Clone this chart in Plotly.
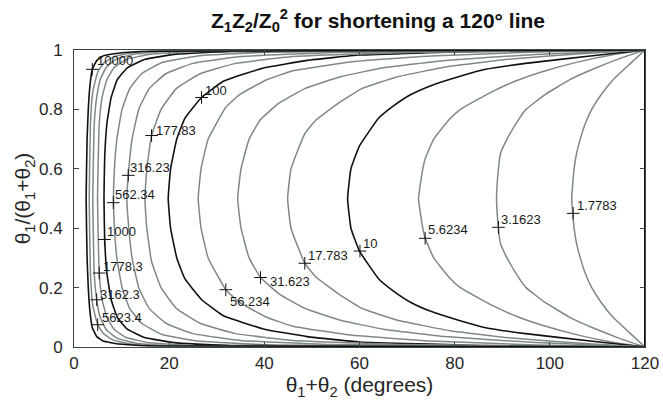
import plotly.graph_objects as go

# ---- data ----
levels = [1.7783, 3.1623, 5.6234, 10, 17.783, 31.623, 56.234, 100,
          177.83, 316.23, 562.34, 1000, 1778.3, 3162.3, 5623.4, 10000]
label_text = ["1.7783", "3.1623", "5.6234", "10", "17.783", "31.623", "56.234", "100",
              "177.83", "316.23", "562.34", "1000", "1778.3", "3162.3", "5623.4", "10000"]
# position of each contour label ("+") in data units
label_x = [104.9, 89.2, 73.8, 60.1, 48.5, 39.2, 31.9, 26.8,
           16.3, 11.4, 8.27, 6.4, 5.3, 4.77, 4.98, 3.85]
label_y = [0.45, 0.403, 0.366, 0.323, 0.282, 0.234, 0.193, 0.84,
           0.712, 0.578, 0.486, 0.362, 0.249, 0.159, 0.075, 0.935]

# contour paths (theta1+theta2 in degrees, theta1/(theta1+theta2))
c1_x = [120, 116.6, 113.3, 110.8, 108.8, 107.4, 106.4, 105.6, 105.1, 104.6, 105.1, 105.6, 106.4, 107.4, 108.8, 110.8, 113.3, 116.6, 120]
c1_y = [0, 0.05, 0.1, 0.15, 0.2, 0.25, 0.3, 0.35, 0.4, 0.5, 0.6, 0.65, 0.7, 0.75, 0.8, 0.85, 0.9, 0.95, 1]
c2_x = [120, 114.5, 109, 104.2, 99.0, 95.0, 93.6, 91.0, 89.6, 89.2, 88.8, 89.2, 89.6, 91.0, 93.6, 95.0, 99.0, 104.2, 109, 114.5, 120]
c2_y = [0, 0.03, 0.065, 0.1, 0.15, 0.2, 0.23, 0.3, 0.35, 0.4, 0.5, 0.6, 0.65, 0.7, 0.77, 0.8, 0.85, 0.9, 0.935, 0.97, 1]
c3_x = [120, 113.5, 106, 98.4, 93.5, 87.9, 81.2, 78.8, 75.6, 73.8, 73.3, 72.4, 73.3, 73.8, 75.6, 78.8, 81.2, 87.9, 93.5, 98.4, 106, 113.5, 120]
c3_y = [0, 0.015, 0.04, 0.073, 0.1, 0.14, 0.2, 0.235, 0.3, 0.366, 0.4, 0.5, 0.6, 0.634, 0.7, 0.765, 0.8, 0.86, 0.9, 0.927, 0.96, 0.985, 1]
c4_x = [120, 108.5, 94.9, 86.5, 80.8, 75.0, 70.8, 67.0, 64.0, 60.0, 58.2, 57.5, 58.2, 60.0, 64.0, 67.0, 70.8, 75.0, 80.8, 86.5, 94.9, 108.5, 120]
c4_y = [0, 0.02, 0.045, 0.065, 0.09, 0.12, 0.15, 0.19, 0.23, 0.323, 0.4, 0.5, 0.6, 0.677, 0.77, 0.81, 0.85, 0.88, 0.91, 0.935, 0.955, 0.98, 1]
c5_x = [120, 109, 92, 79, 68, 60.5, 55.5, 50.9, 48.5, 45.6, 44.9, 45.6, 48.5, 50.9, 55.5, 60.5, 68, 79, 92, 109, 120]
c5_y = [0, 0.01, 0.03, 0.055, 0.09, 0.13, 0.18, 0.235, 0.282, 0.4, 0.5, 0.6, 0.718, 0.765, 0.82, 0.87, 0.91, 0.945, 0.97, 0.99, 1]
c6_x = [120, 97, 78, 65, 56, 48.5, 43, 39.2, 36.8, 35.1, 34.4, 35.1, 36.8, 39.2, 43, 48.5, 56, 65, 78, 97, 120]
c6_y = [0, 0.015, 0.035, 0.06, 0.09, 0.13, 0.18, 0.234, 0.3, 0.4, 0.5, 0.6, 0.7, 0.766, 0.82, 0.87, 0.91, 0.94, 0.965, 0.985, 1]
c7_x = [120, 97, 75, 58, 46, 40.5, 34.8, 31.9, 28.2, 26.7, 26.1, 26.7, 28.2, 31.9, 34.8, 40.5, 46, 58, 75, 97, 120]
c7_y = [0, 0.007, 0.02, 0.04, 0.07, 0.1, 0.15, 0.193, 0.3, 0.4, 0.5, 0.6, 0.7, 0.807, 0.85, 0.9, 0.93, 0.96, 0.98, 0.993, 1]
c8_x = [120, 85, 60, 49, 40, 31.3, 26.8, 23.3, 21.6, 20.3, 19.8, 20.3, 21.6, 23.3, 26.8, 31.3, 40, 49, 60, 85, 120]
c8_y = [0, 0.005, 0.017, 0.035, 0.06, 0.106, 0.16, 0.23, 0.3, 0.4, 0.5, 0.6, 0.7, 0.77, 0.84, 0.894, 0.94, 0.965, 0.983, 0.995, 1]
c9_x = [120, 70, 46, 34, 26.5, 21.5, 18.3, 16.3, 15.3, 14.9, 15.3, 16.3, 18.3, 21.5, 26.5, 34, 46, 70, 120]
c9_y = [0, 0.008, 0.022, 0.045, 0.08, 0.13, 0.2, 0.288, 0.4, 0.5, 0.6, 0.712, 0.8, 0.87, 0.92, 0.955, 0.978, 0.992, 1]
c10_x = [120, 55, 35, 25, 19.3, 15.8, 13.6, 12.2, 11.4, 11.1, 11.4, 12.2, 13.6, 15.8, 19.3, 25, 35, 55, 120]
c10_y = [0, 0.008, 0.022, 0.045, 0.08, 0.13, 0.2, 0.3, 0.422, 0.5, 0.578, 0.7, 0.8, 0.87, 0.92, 0.955, 0.978, 0.992, 1]
c11_x = [120, 42, 26, 18.5, 14.2, 11.7, 10.1, 9.0, 8.5, 8.3, 8.5, 9.0, 10.1, 11.7, 14.2, 18.5, 26, 42, 120]
c11_y = [0, 0.007, 0.02, 0.042, 0.08, 0.13, 0.2, 0.3, 0.4, 0.5, 0.6, 0.7, 0.8, 0.87, 0.92, 0.958, 0.98, 0.993, 1]
c12_x = [120, 33, 21.5, 14.8, 11.2, 9.1, 7.8, 6.9, 6.45, 6.3, 6.45, 6.9, 7.8, 9.1, 11.2, 14.8, 21.5, 33, 120]
c12_y = [0, 0.005, 0.014, 0.032, 0.06, 0.1, 0.16, 0.25, 0.362, 0.5, 0.638, 0.75, 0.84, 0.9, 0.94, 0.968, 0.986, 0.995, 1]
c13_x = [120, 25, 16, 11, 8.4, 6.9, 5.9, 5.3, 4.95, 5.3, 5.9, 6.9, 8.4, 11, 16, 25, 120]
c13_y = [0, 0.005, 0.014, 0.032, 0.06, 0.1, 0.16, 0.249, 0.5, 0.751, 0.84, 0.9, 0.94, 0.968, 0.986, 0.995, 1]
c14_x = [120, 20, 13, 9, 6.8, 5.5, 4.77, 4.25, 3.95, 4.25, 4.77, 5.5, 6.8, 9, 13, 20, 120]
c14_y = [0, 0.004, 0.013, 0.03, 0.058, 0.1, 0.159, 0.25, 0.5, 0.75, 0.841, 0.9, 0.942, 0.97, 0.987, 0.996, 1]
c15_x = [120, 18, 12, 8.3, 6.2, 4.98, 3.95, 3.45, 3.2, 3.45, 3.95, 4.98, 6.2, 8.3, 12, 18, 120]
c15_y = [0, 0.003, 0.01, 0.023, 0.045, 0.075, 0.14, 0.25, 0.5, 0.75, 0.86, 0.925, 0.955, 0.977, 0.99, 0.997, 1]
c16_x = [120, 16, 9.6, 6.1, 4.8, 3.85, 3.35, 3.0, 2.75, 2.55, 2.75, 3.0, 3.35, 3.85, 4.8, 6.1, 9.6, 16, 120]
c16_y = [0, 0.004, 0.01, 0.02, 0.035, 0.065, 0.12, 0.2, 0.3, 0.5, 0.7, 0.8, 0.88, 0.935, 0.965, 0.98, 0.99, 0.996, 1]
# level-1 contour lies on the right edge
c0_x = [120, 120]
c0_y = [0, 1]

x_ticks = [0, 20, 40, 60, 80, 100, 120]
y_ticks = [0, 0.2, 0.4, 0.6, 0.8, 1]
y_tick_text = ["0", "0.2", "0.4", "0.6", "0.8", "1"]

# ---- styles ----
paths = [(c1_x, c1_y), (c2_x, c2_y), (c3_x, c3_y), (c4_x, c4_y), (c5_x, c5_y),
         (c6_x, c6_y), (c7_x, c7_y), (c8_x, c8_y), (c9_x, c9_y), (c10_x, c10_y),
         (c11_x, c11_y), (c12_x, c12_y), (c13_x, c13_y), (c14_x, c14_y),
         (c15_x, c15_y), (c16_x, c16_y)]
decade = {10, 100, 1000, 10000}
GRAY = "#7f8888"
BLACK = "#111111"
AX = "#3a4646"
FONT = "Liberation Sans, Arial, Helvetica, sans-serif"
TXT = "#262626"

fig = go.Figure()
for lev, (px, py) in zip(levels, paths):
    is_dec = lev in decade
    fig.add_trace(go.Scatter(
        x=px, y=py, mode="lines",
        line=dict(color=BLACK if is_dec else GRAY, width=1.6 if is_dec else 1.5,
                  shape="spline", smoothing=0.35),
        hoverinfo="skip", showlegend=False))
fig.add_trace(go.Scatter(x=c0_x, y=c0_y, mode="lines",
                         line=dict(color=BLACK, width=2), hoverinfo="skip",
                         showlegend=False))

fig.add_trace(go.Scatter(
    x=label_x, y=label_y, mode="markers",
    marker=dict(symbol="cross-thin", size=9, line=dict(color=BLACK, width=1)),
    hoverinfo="skip", showlegend=False))

# label offsets in pixels (dx, dy), dy up
offs = [(2, 8), (1, 8), (1, 9), (1, 8), (1, 8), (7, -4), (2, -12), (1, 7),
        (2, 5), (0, 8), (0, 8), (1, 8), (2, 7), (1, 5), (2, 7), (3, 9)]
for t, lx, ly, (dx, dy) in zip(label_text, label_x, label_y, offs):
    fig.add_annotation(x=lx, y=ly, text=t, showarrow=False, xanchor="left",
                       yanchor="middle", xshift=dx, yshift=dy,
                       font=dict(family=FONT, size=13, color="#1a1a1a"))

axis_common = dict(showline=True, linecolor=AX, linewidth=1, mirror="ticks",
                   ticks="inside", ticklen=5, tickcolor=AX, showgrid=False,
                   zeroline=False, tickfont=dict(family=FONT, size=17, color=TXT))
fig.update_xaxes(range=[0, 120], tickvals=x_ticks, ticktext=[str(v) for v in x_ticks],
                 ticklabelstandoff=1, automargin=False,
                 title=dict(text="θ<sub>1</sub>+θ<sub>2</sub> (degrees)",
                            font=dict(family=FONT, size=21, color=TXT), standoff=2),
                 **axis_common)
fig.update_yaxes(range=[0, 1], tickvals=y_ticks, ticktext=y_tick_text,
                 ticklabelstandoff=7, automargin=False,
                 title=dict(text="θ<sub>1</sub>/(θ<sub>1</sub>+θ<sub>2</sub>)",
                            font=dict(family=FONT, size=21, color=TXT), standoff=2),
                 **axis_common)

fig.update_layout(
    width=663, height=407,
    margin=dict(l=74, r=18, t=50, b=60),
    paper_bgcolor="white", plot_bgcolor="white",
    hovermode=False,
    title=dict(text="<b>Z<sub>1</sub>Z<sub>2</sub>/Z<sub>0</sub><sup>2</sup> for shortening a 120° line</b>",
               x=378 / 663, xref="container", xanchor="center", yref="container", y=0.95, yanchor="middle",
               font=dict(family=FONT, size=21, color="#111111")),
)

fig.write_html("out.html", config={"displayModeBar": False, "staticPlot": True},
               post_script="document.body.style.margin='0';")
